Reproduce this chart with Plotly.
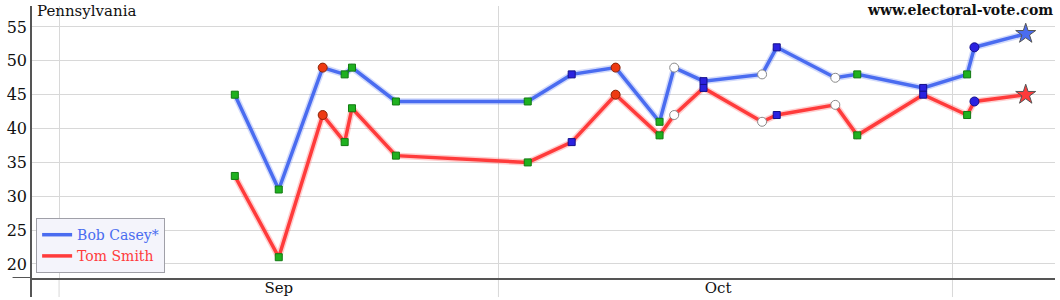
import plotly.graph_objects as go

# ---- data ----
poll_dates = ["2012-09-13", "2012-09-16", "2012-09-19", "2012-09-20 12:00", "2012-09-21",
              "2012-09-24", "2012-10-03", "2012-10-06", "2012-10-09", "2012-10-12",
              "2012-10-13", "2012-10-15", "2012-10-19", "2012-10-20", "2012-10-24",
              "2012-10-25 12:00", "2012-10-30", "2012-11-02", "2012-11-02 12:00", "2012-11-06"]
casey = [45, 31, 49, 48, 49, 44, 44, 48, 49, 41, 49, 47, 48, 52, 47.5, 48, 46, 48, 52, 54]
smith = [33, 21, 42, 38, 43, 36, 35, 38, 45, 39, 42, 46, 41, 42, 43.5, 39, 45, 42, 44, 45]
pollster_kind = ["g", "g", "r", "g", "g", "g", "g", "b", "r", "g",
                 "o", "b", "o", "b", "o", "g", "b", "g", "c", "star"]
election_day = ["2012-11-06"]
election_marker = [16.5]
month_starts = ["2012-09-01", "2012-10-01", "2012-11-01"]
month_label_dates = ["2012-09-16", "2012-10-16"]
month_labels = ["Sep", "Oct"]
y_ticks = [20, 25, 30, 35, 40, 45, 50, 55]

CASEY = "#4a6cf0"
SMITH = "#ff3b3b"
FONT = "DejaVu Serif"

styles = {
    "g": dict(symbol="square", size=7, color="#1fb11f", line="#127a12"),
    "b": dict(symbol="square", size=7, color="#2b22e0", line="#14108a"),
    "r": dict(symbol="circle", size=9, color="#ee3a12", line="#8a2408"),
    "o": dict(symbol="circle", size=9, color="#ffffff", line="#8a8a8a"),
    "c": dict(symbol="circle", size=9, color="#2b22e0", line="#14108a"),
}

def marker_arrays(star_color):
    sym, size, col, lc = [], [], [], []
    for k in pollster_kind:
        if k == "star":
            sym.append("star"); size.append(15); col.append(star_color); lc.append("#555555")
        else:
            s = styles[k]
            sym.append(s["symbol"]); size.append(s["size"]); col.append(s["color"]); lc.append(s["line"])
    return dict(symbol=sym, size=size, color=col, line=dict(color=lc, width=1), opacity=1)

fig = go.Figure()

for name, vals, color, halo in [("Bob Casey*", casey, CASEY, "rgba(74,108,240,0.25)"),
                                ("Tom Smith", smith, SMITH, "rgba(255,59,59,0.25)")]:
    fig.add_trace(go.Scatter(x=poll_dates, y=vals, mode="lines",
                             line=dict(color=halo, width=6.5), showlegend=False, hoverinfo="skip"))
    fig.add_trace(go.Scatter(x=poll_dates, y=vals, mode="lines", name=f"<span style='color:{color}'>{name}</span>",
                             line=dict(color=color, width=3.5), legendgroup=name))

for vals, color in [(casey, CASEY), (smith, SMITH)]:
    fig.add_trace(go.Scatter(x=poll_dates, y=vals, mode="markers", marker=marker_arrays(color),
                             showlegend=False, cliponaxis=False))

fig.add_trace(go.Scatter(x=election_day, y=election_marker, mode="markers",
                         marker=dict(symbol="star", size=14, color="#a0489a", line=dict(color="#6a2a66", width=1)),
                         showlegend=False, cliponaxis=False))

# axis extensions (below x axis / left of y axis) and gridline extensions
shapes = [
    dict(type="line", xref="paper", yref="paper", x0=0, x1=0, y0=-0.07, y1=1, line=dict(color="#555555", width=2)),
    dict(type="line", xref="paper", yref="y", x0=-0.018, x1=0, y0=17.93, y1=17.93, line=dict(color="#555555", width=2)),
]
for m in month_starts:
    shapes.append(dict(type="line", xref="x", yref="paper", x0=m, x1=m, y0=-0.07, y1=0,
                       line=dict(color="#d8d8d8", width=1), layer="below"))

fig.update_layout(
    width=1060, height=300,
    margin=dict(l=31, r=5, t=6, b=22, autoexpand=False),
    paper_bgcolor="white", plot_bgcolor="white",
    font=dict(family=FONT, size=14, color="#111111"),
    showlegend=True,
    legend=dict(x=0.005, y=0.018, xanchor="left", yanchor="bottom",
                bgcolor="#f4f4fb", bordercolor="#a0a0a8", borderwidth=1,
                font=dict(family=FONT, size=14), tracegroupgap=0, itemwidth=30),
    xaxis=dict(type="date", range=["2012-08-30 02:00", "2012-11-08"], automargin=False,
               tickvals=month_label_dates, ticktext=month_labels, ticklabelstandoff=-5,
               showgrid=False,
               minor=dict(tickvals=month_starts, showgrid=True, gridcolor="#d8d8d8", gridwidth=1, ticks=""),
               showline=True, linecolor="#555555", linewidth=2, ticks="",
               tickfont=dict(family=FONT, size=15, color="#111111"), zeroline=False),
    yaxis=dict(range=[17.93, 58.1], tickvals=y_ticks, showgrid=True, gridcolor="#d8d8d8", automargin=False,
               showline=False, ticks="", zeroline=False, ticklabelstandoff=3,
               tickfont=dict(family=FONT, size=16, color="#111111")),
    shapes=shapes,
    annotations=[
        dict(text="Pennsylvania", xref="paper", yref="paper", x=0, y=1, xshift=4, yshift=6,
             xanchor="left", yanchor="top", showarrow=False,
             font=dict(family=FONT, size=15, color="#111111")),
        dict(text="<b>www.electoral-vote.com</b>", xref="paper", yref="paper", x=1, y=1, xshift=0, yshift=6,
             xanchor="right", yanchor="top", showarrow=False,
             font=dict(family=FONT, size=14, color="#111111")),
    ],
)

fig.write_html("out.html")
